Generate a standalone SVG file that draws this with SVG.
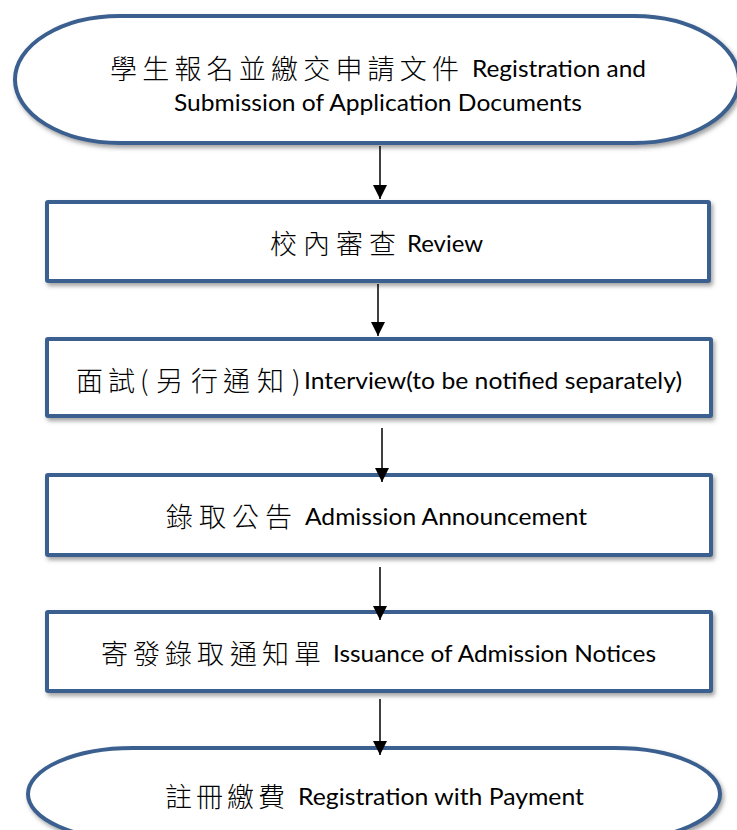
<svg xmlns="http://www.w3.org/2000/svg" width="737" height="830" viewBox="0 0 737 830">
<style>
.shape{fill:#ffffff;stroke:#3B6190;stroke-width:4;filter:url(#sh)}
.cjk{font-family:"Noto Sans CJK TC","Noto Sans CJK SC",sans-serif;font-size:27px;font-weight:300;fill:#000}
.en{font-family:Lato,"Liberation Sans",sans-serif;font-size:23px;fill:#000}
.conn{stroke:#000;stroke-width:1.5;fill:none;marker-end:url(#ah)}
</style>
<defs>
<filter id="sh" x="-5%" y="-10%" width="112%" height="130%">
<feDropShadow dx="2" dy="3" stdDeviation="2" flood-color="#555" flood-opacity="0.55"/>
</filter>
<marker id="ah" viewBox="0 0 10 10" refX="10" refY="5" markerWidth="14" markerHeight="15" markerUnits="userSpaceOnUse" orient="auto">
<path d="M0,0 L10,5 L0,10 z" fill="#000"/>
</marker>
<clipPath id="topclip"><rect x="0" y="0" width="737" height="115"/></clipPath>
</defs>
<rect x="0" y="0" width="737" height="830" fill="#fff"/>
<g id="n1">
<rect class="shape" x="15" y="16" width="724" height="127" rx="105" ry="63.5"/>
<text class="cjk" y="79" x="110 142.2 174.4 206.6 238.8 271 303.2 335.4 367.6 399.8 432">學生報名並繳交申請文件</text>
<text class="en" x="472" y="77" textLength="174" lengthAdjust="spacingAndGlyphs">Registration and</text>
<text class="en" x="174" y="111" textLength="408" lengthAdjust="spacingAndGlyphs" clip-path="url(#topclip)">Submission of Application Documents</text>
</g>
<g id="n2">
<rect class="shape" x="47" y="202" width="662" height="79" rx="1"/>
<text class="cjk" y="254" x="270 303 336 369">校內審查</text>
<text class="en" x="407" y="252" textLength="76" lengthAdjust="spacingAndGlyphs">Review</text>
</g>
<g id="n3">
<rect class="shape" x="47" y="339" width="664" height="77" rx="1"/>
<text class="cjk" y="391" x="76 108 140 156 191 223 257 292">面試(另行通知)</text>
<text class="en" x="304" y="389" textLength="378" lengthAdjust="spacingAndGlyphs">Interview(to be notified separately)</text>
</g>
<g id="n4">
<rect class="shape" x="47" y="475" width="664" height="80" rx="1"/>
<text class="cjk" y="527" x="166 199 232 265">錄取公告</text>
<text class="en" x="305" y="525" textLength="282" lengthAdjust="spacingAndGlyphs">Admission Announcement</text>
</g>
<g id="n5">
<rect class="shape" x="47" y="612" width="664" height="79" rx="1"/>
<text class="cjk" y="664" x="101 133 165 197 230 262 294">寄發錄取通知單</text>
<text class="en" x="333" y="662" textLength="323" lengthAdjust="spacingAndGlyphs">Issuance of Admission Notices</text>
</g>
<g id="n6">
<rect class="shape" x="28" y="748" width="692" height="92" rx="105" ry="46"/>
<text class="cjk" y="807" x="165 196 227 258">註冊繳費</text>
<text class="en" x="298" y="805" textLength="286" lengthAdjust="spacingAndGlyphs">Registration with Payment</text>
</g>
<g id="connectors">
<line class="conn" x1="380" y1="146" x2="380" y2="199"/>
<line class="conn" x1="378" y1="284" x2="378" y2="336"/>
<line class="conn" x1="382" y1="428" x2="382" y2="482"/>
<line class="conn" x1="380" y1="567" x2="380" y2="620"/>
<line class="conn" x1="380" y1="699" x2="380" y2="755"/>
</g>
</svg>
